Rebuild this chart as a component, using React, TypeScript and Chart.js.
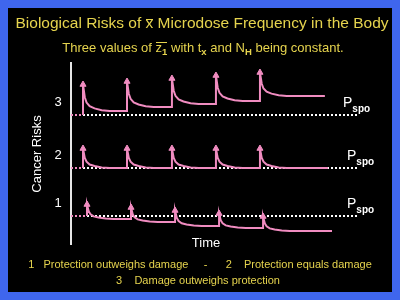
import React, { useEffect, useRef } from 'react';
import { Chart, registerables } from 'chart.js';

Chart.register(...registerables);

// ---- data ----
const rowLabels = ['1', '2', '3'];
const baselines = [0.58, 1.54, 2.6]; // P_spo level of each row
const spikeTimes = [
  [0.36, 1.35, 2.34, 3.33, 4.32],
  [0.27, 1.26, 2.27, 3.26, 4.25],
  [0.27, 1.26, 2.27, 3.26, 4.25],
];
const preLevels = [
  [0.58, 0.52, 0.46, 0.38, 0.34],
  [1.54, 1.54, 1.54, 1.54, 1.54],
  [2.6, 2.68, 2.76, 2.82, 2.88],
];
const peakLevels = [
  [0.81, 0.75, 0.69, 0.63, 0.57],
  [1.93, 1.93, 1.93, 1.93, 1.93],
  [3.21, 3.27, 3.33, 3.39, 3.45],
];
const settleLevels = [
  [0.52, 0.46, 0.38, 0.34, 0.28],
  [1.54, 1.54, 1.54, 1.54, 1.54],
  [2.68, 2.76, 2.82, 2.88, 2.98],
];
const endTimes = [5.87, 5.78, 5.71];
// decay profile after each spike (time after spike, fraction of spike left)
const decayOffsets = [0.04, 0.08, 0.15, 0.26, 0.42, 0.6];
const decayShape = [0.52, 0.32, 0.18, 0.1, 0.03, 0];
const baselineEnd = 6.46;
const timeMax = 6.5;
const riskMax = 3.66;

const PINK = '#f08cc0';
const WHITE = '#ffffff';
const YELLOW = '#e6d44e';
const BLUE = '#3f66ee';
const FONT = '"Liberation Sans", Arial, sans-serif';

function buildCurve(r: number) {
  const pts: { x: number; y: number }[] = [];
  const ts = spikeTimes[r];
  for (let i = 0; i < ts.length; i++) {
    const pk = peakLevels[r][i];
    const st = settleLevels[r][i];
    pts.push({ x: ts[i], y: preLevels[r][i] });
    pts.push({ x: ts[i], y: pk });
    for (let k = 0; k < decayOffsets.length; k++) {
      pts.push({ x: ts[i] + decayOffsets[k], y: st + (pk - st) * decayShape[k] });
    }
  }
  pts.push({ x: endTimes[r], y: settleLevels[r][ts.length - 1] });
  return pts;
}

const labelsPlugin = {
  id: 'slideLabels',
  afterDatasetsDraw(chart: any) {
    const { ctx, scales } = chart;
    const ys = scales.y;
    ctx.save();
    ctx.fillStyle = WHITE;
    // row numbers
    ctx.font = `13px ${FONT}`;
    ctx.textAlign = 'center';
    ctx.textBaseline = 'middle';
    rowLabels.forEach((lab, i) => {
      ctx.fillText(lab, 58, ys.getPixelForValue(baselines[i]) - 13);
    });
    // P_spo labels
    const pX = [347, 347, 343];
    baselines.forEach((b, i) => {
      const py = ys.getPixelForValue(b);
      ctx.textAlign = 'left';
      ctx.textBaseline = 'alphabetic';
      ctx.font = `14px ${FONT}`;
      ctx.fillText('P', pX[i], py - 8);
      const w = ctx.measureText('P').width;
      ctx.font = `bold 10px ${FONT}`;
      ctx.fillText('spo', pX[i] + w, py - 3);
    });
    // axis titles
    ctx.font = `13px ${FONT}`;
    ctx.textAlign = 'center';
    ctx.textBaseline = 'alphabetic';
    ctx.fillText('Time', 206, 247);
    ctx.save();
    ctx.translate(37, 154);
    ctx.rotate(-Math.PI / 2);
    ctx.textBaseline = 'middle';
    ctx.fillText('Cancer Risks', 0, 0);
    ctx.restore();
    ctx.restore();
  },
};

function ChartCanvas() {
  const ref = useRef<HTMLCanvasElement>(null);
  useEffect(() => {
    const datasets: any[] = [];
    // y axis line
    datasets.push({
      data: [{ x: 0, y: 0 }, { x: 0, y: riskMax }],
      showLine: true,
      borderColor: '#e6e6e6',
      borderWidth: 2,
      pointRadius: 0,
      clip: false,
      order: 4,
    });
    rowLabels.forEach((_, r) => {
      datasets.push({
        data: [
          { x: 0, y: baselines[r] },
          { x: spikeTimes[r][0], y: baselines[r] },
          { x: baselineEnd, y: baselines[r] },
        ],
        showLine: true,
        borderColor: WHITE,
        borderWidth: 2,
        borderDash: [2, 2],
        pointRadius: 0,
        clip: false,
        order: 3,
        segment: {
          borderColor: (c: any) => (c.p0DataIndex === 0 ? PINK : WHITE),
        },
      });
      datasets.push({
        data: buildCurve(r),
        showLine: true,
        borderColor: PINK,
        borderWidth: 2,
        pointRadius: 0,
        tension: 0,
        clip: false,
        order: 1,
      });
      datasets.push({
        data: spikeTimes[r].map((t, i) => ({ x: t, y: peakLevels[r][i] })),
        showLine: false,
        pointStyle: 'triangle',
        pointRadius: 3.5,
        pointBackgroundColor: PINK,
        pointBorderColor: PINK,
        pointBorderWidth: 1,
        clip: false,
        order: 0,
      });
    });
    const chart = new Chart(ref.current as HTMLCanvasElement, {
      type: 'scatter',
      data: { datasets },
      options: {
        responsive: false,
        animation: false,
        devicePixelRatio: 1,
        layout: { padding: { left: 71, right: 40, top: 62, bottom: 55 } },
        scales: {
          x: { type: 'linear', min: 0, max: timeMax, display: false },
          y: { type: 'linear', min: 0, max: riskMax, display: false },
        },
        plugins: { legend: { display: false }, tooltip: { enabled: false } },
        events: [],
      },
      plugins: [labelsPlugin],
    });
    return () => chart.destroy();
  }, []);
  return (
    <canvas
      ref={ref}
      width={400}
      height={300}
      style={{ position: 'absolute', left: 0, top: 0, width: 400, height: 300 }}
    />
  );
}

const sub: React.CSSProperties = {
  fontSize: '9.5px',
  fontWeight: 'bold',
  position: 'relative',
  top: '3px',
  lineHeight: 0,
};

function Bar({ children, top }: { children: React.ReactNode; top: number }) {
  return (
    <span style={{ position: 'relative' }}>
      {children}
      <span
        style={{
          position: 'absolute',
          left: 0,
          right: 0,
          top,
          borderTop: '1px solid ' + YELLOW,
        }}
      />
    </span>
  );
}

export default function App() {
  useEffect(() => {
    document.body.style.margin = '0';
  }, []);
  const textBase: React.CSSProperties = {
    position: 'absolute',
    left: 0,
    width: 400,
    textAlign: 'center',
    color: YELLOW,
    fontFamily: FONT,
    whiteSpace: 'pre',
  };
  return (
    <div style={{ position: 'relative', width: 400, height: 300, background: BLUE, overflow: 'hidden' }}>
      <div style={{ position: 'absolute', left: 8, top: 8, width: 384, height: 284, background: '#000' }} />
      <ChartCanvas />
      <div style={{ ...textBase, left: 2, top: 15, fontSize: '15.5px', lineHeight: '15.5px' }}>
        Biological Risks of <Bar top={5}>x</Bar> Microdose Frequency in the Body
      </div>
      <div style={{ ...textBase, left: 3, top: 41, fontSize: '13px', lineHeight: '13px' }}>
        Three values of <Bar top={2}>z<span style={sub}>1</span></Bar> with t
        <span style={sub}>x</span> and N<span style={sub}>H</span> being constant.
      </div>
      <div style={{ ...textBase, top: 258.7, fontSize: '11px', lineHeight: '11px' }}>
        {'1   Protection outweighs damage     -      2    Protection equals damage'}
      </div>
      <div style={{ ...textBase, left: -2, top: 274.7, fontSize: '11px', lineHeight: '11px' }}>
        {'3    Damage outweighs protection'}
      </div>
    </div>
  );
}
